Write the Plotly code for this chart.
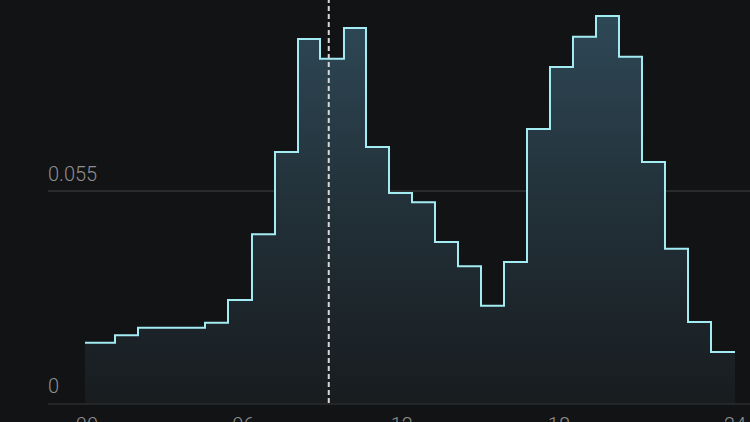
import plotly.graph_objects as go

# Bin edges (hours) and density values per bin
bin_edges = [0.0, 1.108, 1.957, 2.806, 3.618, 4.431, 5.280, 6.166, 7.015, 7.865,
             8.677, 9.563, 10.375, 11.225, 12.074, 12.923, 13.772, 14.622, 15.471,
             16.320, 17.169, 18.018, 18.868, 19.717, 20.566, 21.415, 22.265, 23.114, 24.0]
density = [0.0156, 0.0176, 0.0195, 0.0195, 0.0195, 0.0208, 0.0267, 0.0438, 0.0651,
           0.0944, 0.0893, 0.0973, 0.0664, 0.0545, 0.0521, 0.0418, 0.0355, 0.0252,
           0.0366, 0.0711, 0.0872, 0.0950, 0.1004, 0.0898, 0.0625, 0.0400, 0.0210, 0.0132]
marker_hour = 9.0
x_tick_pos = [0.07, 5.85, 11.7, 17.5, 24.0]
x_tick_labels = ["00", "06", "12", "18", "24"]
y_tick_vals = [0, 0.055]
y_tick_labels = ["0", "0.055"]

BG = "#121314"
TXT = "#8e8e90"
FONT = "Roboto"

fig = go.Figure()
fig.add_trace(go.Scatter(
    x=bin_edges,
    y=density + [density[-1]],
    mode="lines",
    line=dict(shape="hv", color="#a3ecf4", width=2),
    fill="tozeroy",
    fillgradient=dict(type="vertical",
                      colorscale=[[0, "rgba(24,28,31,1)"], [0.5, "rgba(34,48,56,1)"], [1, "rgba(46,72,86,1)"]]),
    hoverinfo="skip",
    showlegend=False,
))

fig.add_shape(type="line", xref="x", yref="paper", x0=marker_hour, x1=marker_hour, y0=0, y1=1,
              line=dict(color="#d8d8d8", width=2, dash="5px,3px"))

fig.update_layout(
    width=750, height=422,
    margin=dict(l=48, r=0, t=0, b=19, autoexpand=False),
    paper_bgcolor=BG, plot_bgcolor=BG,
    font=dict(family=FONT, size=20, color=TXT, weight=300),
    xaxis=dict(range=[-1.366, 24.554], tickvals=x_tick_pos, ticktext=x_tick_labels,
               showgrid=False, zeroline=False, showline=True, linecolor="#252628", linewidth=2,
               ticks="outside", ticklen=3, tickcolor=BG, tickfont=dict(size=20, color=TXT),
               ticklabeloverflow="allow", automargin=False),
    yaxis=dict(range=[0, 0.10455], tickvals=y_tick_vals, ticktext=y_tick_labels,
               ticklabelposition="inside top", ticklabelstandoff=-3, ticklabelshift=-3,
               showgrid=True, gridcolor="#2a2b2d", gridwidth=2,
               zeroline=False, showline=False, tickfont=dict(size=20, color=TXT),
               ticklabeloverflow="allow", automargin=False),
)

fig.write_html("out.html", config={"displayModeBar": False},
               post_script="document.body.style.margin='0';document.body.style.overflow='hidden';")
